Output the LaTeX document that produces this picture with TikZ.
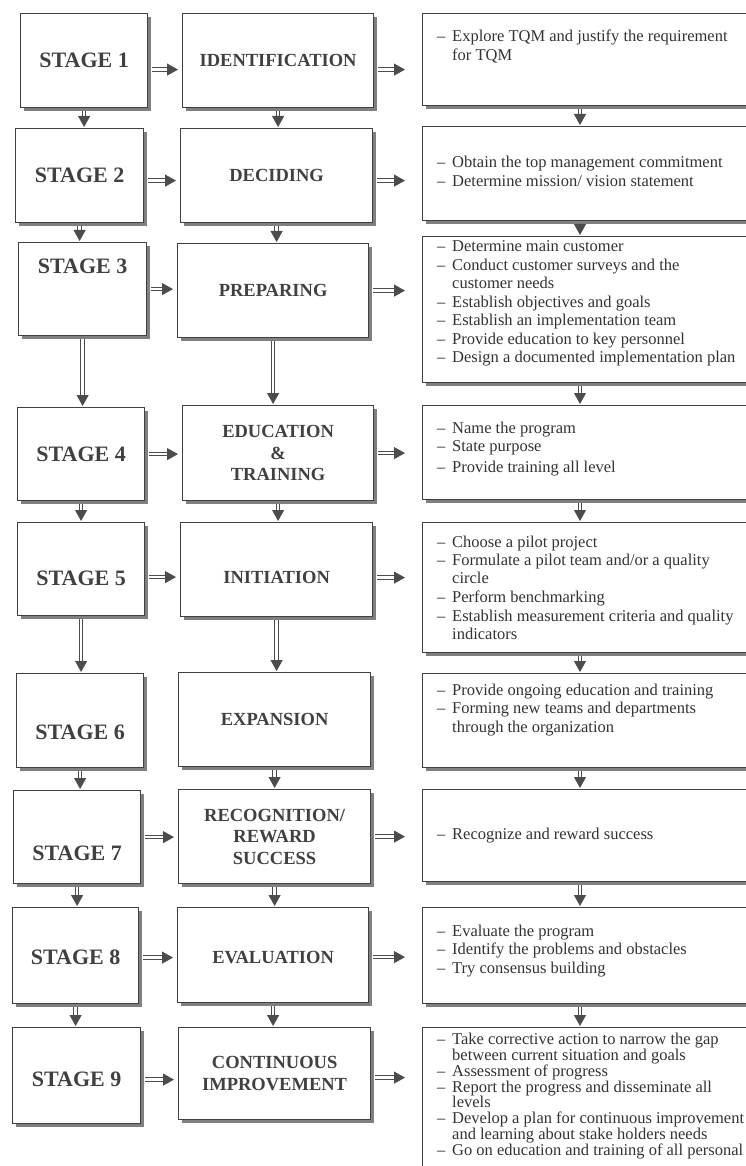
\documentclass[tikz,border=0pt]{standalone}
\usepackage{fontspec}
\setmainfont{Liberation Serif}
\usetikzlibrary{arrows.meta,shadows}

\newcommand{\itemdash}{\makebox[15pt][l]{--}}
\newcommand{\itemind}{\hspace*{15pt}}

\tikzset{
  tqmbox/.style={draw=black!75, line width=1.2pt, fill=white, anchor=north west, inner sep=0pt,
    drop shadow={shadow xshift=3pt, shadow yshift=-3pt, fill=black!50, opacity=1}},
  stagebox/.style={tqmbox, minimum width=127pt, minimum height=94pt},
  phasebox/.style={tqmbox, minimum width=192pt, minimum height=94pt},
  actbox/.style={tqmbox, minimum width=340pt, minimum height=94pt},
  stagetxt/.style={font=\fontsize{22}{24}\selectfont\bfseries, text=black!75},
  phasetxt/.style={font=\fontsize{18.5}{21.5}\selectfont\bfseries, text=black!75, align=center},
  acttxt/.style={font=\fontsize{16.5}{18.5}\selectfont, text=black!80, align=left, anchor=west, inner sep=0pt},
  dbl/.style={draw=black!70, double=white, double distance=2.4pt, line width=1pt,
    -{Triangle[length=11pt,width=12pt]}},
  hdbl/.style={dbl, shorten <=4pt, shorten >=4pt},
  vdbl/.style={dbl, shorten <=3pt, shorten >=1pt}
}

\begin{document}
\begin{tikzpicture}[x=1pt,y=-1pt]
\clip (0,0) rectangle (746,1166);
\fill[white] (0,0) rectangle (746,1166);

% stage 1
\node[stagebox] (st1) at (20,13) {};
\node[stagetxt] (st1t) at (st1) {STAGE 1};
\node[phasebox, minimum width=191pt] (ph1) at (182,13) {};
\node[phasetxt] (ph1t) at (ph1) {IDENTIFICATION};
\node[actbox, minimum height=92pt] (ac1) at (422,13) {};
\node[acttxt] (ac1t) at ([xshift=15pt,yshift=13pt]ac1.west) {\itemdash Explore TQM and justify the requirement\\\itemind for TQM};

% stage 2
\node[stagebox, minimum width=128pt] (st2) at (15,128) {};
\node[stagetxt] (st2t) at (st2) {STAGE 2};
\node[phasebox] (ph2) at (180,128) {};
\node[phasetxt] (ph2t) at (ph2) {DECIDING};
\node[actbox] (ac2) at (422,126) {};
\node[acttxt] (ac2t) at ([xshift=15pt,yshift=2pt]ac2.west) {\itemdash Obtain the top management commitment\\\itemdash Determine mission/ vision statement};

% stage 3
\node[stagebox, minimum width=128pt, minimum height=93pt] (st3) at (18,242) {};
\node[stagetxt] (st3t) at ([yshift=23pt]st3.center) {STAGE 3};
\node[phasebox, minimum width=191pt] (ph3) at (177,243) {};
\node[phasetxt] (ph3t) at (ph3) {PREPARING};
\node[actbox, minimum height=146pt] (ac3) at (422,236) {};
\node[acttxt] (ac3t) at ([xshift=15pt,yshift=6pt]ac3.west) {\itemdash Determine main customer\\\itemdash Conduct customer surveys and the\\\itemind customer needs\\\itemdash Establish objectives and goals\\\itemdash Establish an implementation team\\\itemdash Provide education to key personnel\\\itemdash Design a documented implementation plan};

% stage 4
\node[stagebox, minimum height=93pt] (st4) at (17,407) {};
\node[stagetxt] (st4t) at (st4) {STAGE 4};
\node[phasebox, minimum width=191pt, minimum height=95pt] (ph4) at (182,405) {};
\node[phasetxt] (ph4t) at (ph4) {EDUCATION\\\&\\TRAINING};
\node[actbox] (ac4) at (422,405) {};
\node[acttxt] (ac4t) at ([xshift=15pt,yshift=4pt]ac4.west) {\itemdash Name the program\\\itemdash State purpose\\[2pt]\itemdash Provide training all level};

% stage 5
\node[stagebox, minimum height=93pt] (st5) at (17,522) {};
\node[stagetxt] (st5t) at ([yshift=-9pt]st5.center) {STAGE 5};
\node[phasebox] (ph5) at (180,522) {};
\node[phasetxt] (ph5t) at ([yshift=-8pt]ph5.center) {INITIATION};
\node[actbox, minimum height=130pt] (ac5) at (422,522) {};
\node[acttxt] (ac5t) at ([xshift=15pt]ac5.west) {\itemdash Choose a pilot project\\\itemdash Formulate a pilot team and/or a quality\\\itemind circle\\\itemdash Perform benchmarking\\\itemdash Establish measurement criteria and quality\\\itemind indicators};

% stage 6
\node[stagebox] (st6) at (16,673) {};
\node[stagetxt] (st6t) at ([yshift=-12pt]st6.center) {STAGE 6};
\node[phasebox] (ph6) at (178,672) {};
\node[phasetxt] (ph6t) at (ph6) {EXPANSION};
\node[actbox] (ac6) at (422,673) {};
\node[acttxt] (ac6t) at ([xshift=15pt,yshift=11pt]ac6.west) {\itemdash Provide ongoing education and training\\\itemdash Forming new teams and departments\\\itemind through the organization};

% stage 7
\node[stagebox, minimum height=93pt] (st7) at (13,790) {};
\node[stagetxt] (st7t) at ([yshift=-16pt]st7.center) {STAGE 7};
\node[phasebox] (ph7) at (178,789) {};
\node[phasetxt] (ph7t) at (ph7) {RECOGNITION/\\REWARD\\SUCCESS};
\node[actbox, minimum height=92pt] (ac7) at (422,789) {};
\node[acttxt] (ac7t) at ([xshift=15pt]ac7.west) {\itemdash Recognize and reward success};

% stage 8
\node[stagebox, minimum width=126pt, minimum height=96pt] (st8) at (12,907) {};
\node[stagetxt] (st8t) at ([yshift=-2pt]st8.center) {STAGE 8};
\node[phasebox, minimum width=191pt, minimum height=95pt] (ph8) at (177,907) {};
\node[phasetxt] (ph8t) at ([yshift=-2pt]ph8.center) {EVALUATION};
\node[actbox, minimum height=96pt] (ac8) at (422,907) {};
\node[acttxt] (ac8t) at ([xshift=15pt,yshift=5pt]ac8.west) {\itemdash Evaluate the program\\\itemdash Identify the problems and obstacles\\\itemdash Try consensus building};

% stage 9
\node[stagebox, minimum width=128pt, minimum height=96pt] (st9) at (12,1027) {};
\node[stagetxt] (st9t) at ([yshift=-4pt]st9.center) {STAGE 9};
\node[phasebox, minimum height=92pt] (ph9) at (178,1027) {};
\node[phasetxt] (ph9t) at (ph9) {CONTINUOUS\\IMPROVEMENT};
\node[actbox, minimum height=170pt] (ac9) at (422,1027) {};
\node[acttxt, anchor=north west, font=\fontsize{16.5}{15.8}\selectfont] (ac9t) at ([xshift=15pt,yshift=-6pt]ac9.north west) {\itemdash Take corrective action to narrow the gap\\\itemind between current situation and goals\\\itemdash Assessment of progress\\\itemdash Report the progress and disseminate all\\\itemind levels\\\itemdash Develop a plan for continuous improvement\\\itemind and learning about stake holders needs\\\itemdash Go on education and training of all personal};

% across
\draw[hdbl] ([yshift=-9pt]st1.east) -- ([yshift=-9pt]st1.east -| ph1.west);
\draw[hdbl, shorten >=17pt] ([yshift=-9pt]ph1.east) -- ([yshift=-9pt]ph1.east -| ac1.west);
\draw[hdbl] ([yshift=-5pt]st2.east) -- ([yshift=-5pt]st2.east -| ph2.west);
\draw[hdbl, shorten >=17pt] ([yshift=-5pt]ph2.east) -- ([yshift=-5pt]ph2.east -| ac2.west);
\draw[hdbl] (st3.east) -- (st3.east -| ph3.west);
\draw[hdbl, shorten >=17pt] (ph3.east) -- (ph3.east -| ac3.west);
\draw[hdbl] (st4.east) -- (st4.east -| ph4.west);
\draw[hdbl, shorten >=17pt] (ph4.east) -- (ph4.east -| ac4.west);
\draw[hdbl] ([yshift=-8pt]st5.east) -- ([yshift=-8pt]st5.east -| ph5.west);
\draw[hdbl, shorten >=17pt] ([yshift=-8pt]ph5.east) -- ([yshift=-8pt]ph5.east -| ac5.west);
\draw[hdbl] (st7.east) -- (st7.east -| ph7.west);
\draw[hdbl, shorten >=17pt] (ph7.east) -- (ph7.east -| ac7.west);
\draw[hdbl] ([yshift=-2pt]st8.east) -- ([yshift=-2pt]st8.east -| ph8.west);
\draw[hdbl, shorten >=17pt] ([yshift=-2pt]ph8.east) -- ([yshift=-2pt]ph8.east -| ac8.west);
\draw[hdbl] ([yshift=-4pt]st9.east) -- ([yshift=-4pt]st9.east -| ph9.west);
\draw[hdbl, shorten >=17pt] ([yshift=-4pt]ph9.east) -- ([yshift=-4pt]ph9.east -| ac9.west);

% down
\draw[vdbl] (st1.south) -- (st1.south |- st2.north);
\draw[vdbl] (st2.south) -- (st2.south |- st3.north);
\draw[vdbl] (st3.south) -- (st3.south |- st4.north);
\draw[vdbl] (st4.south) -- (st4.south |- st5.north);
\draw[vdbl] (st5.south) -- (st5.south |- st6.north);
\draw[vdbl] (st6.south) -- (st6.south |- st7.north);
\draw[vdbl] (st7.south) -- (st7.south |- st8.north);
\draw[vdbl] (st8.south) -- (st8.south |- st9.north);

\draw[vdbl] (ph1.south) -- (ph1.south |- ph2.north);
\draw[vdbl] (ph2.south) -- (ph2.south |- ph3.north);
\draw[vdbl] (ph3.south) -- (ph3.south |- ph4.north);
\draw[vdbl] (ph4.south) -- (ph4.south |- ph5.north);
\draw[vdbl] (ph5.south) -- (ph5.south |- ph6.north);
\draw[vdbl] (ph6.south) -- (ph6.south |- ph7.north);
\draw[vdbl] (ph7.south) -- (ph7.south |- ph8.north);
\draw[vdbl] (ph8.south) -- (ph8.south |- ph9.north);

\draw[vdbl] ([xshift=158pt]ac1.south west) -- ([xshift=158pt]ac1.south west |- ac2.north);
\draw[vdbl] ([xshift=158pt]ac2.south west) -- ([xshift=158pt]ac2.south west |- ac3.north);
\draw[vdbl] ([xshift=158pt]ac3.south west) -- ([xshift=158pt]ac3.south west |- ac4.north);
\draw[vdbl] ([xshift=158pt]ac4.south west) -- ([xshift=158pt]ac4.south west |- ac5.north);
\draw[vdbl] ([xshift=158pt]ac5.south west) -- ([xshift=158pt]ac5.south west |- ac6.north);
\draw[vdbl] ([xshift=158pt]ac6.south west) -- ([xshift=158pt]ac6.south west |- ac7.north);
\draw[vdbl] ([xshift=158pt]ac7.south west) -- ([xshift=158pt]ac7.south west |- ac8.north);
\draw[vdbl] ([xshift=158pt]ac8.south west) -- ([xshift=158pt]ac8.south west |- ac9.north);

\end{tikzpicture}
\end{document}
